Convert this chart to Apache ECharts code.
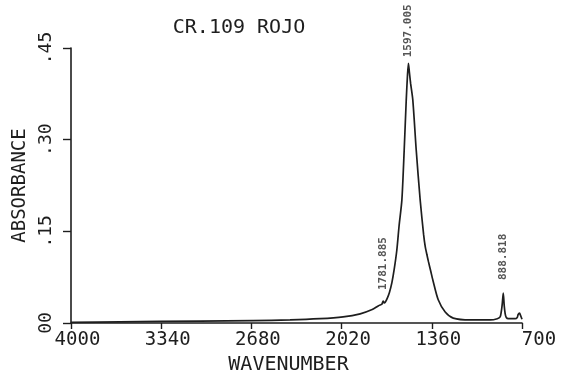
<!DOCTYPE html>
<html><head><meta charset="utf-8">
<script src="https://cdn.jsdelivr.net/npm/echarts@6/dist/echarts.min.js"></script>
<style>html,body{margin:0;padding:0;background:#fff}#c{width:568px;height:376px}</style>
</head><body><div id="c"></div>
<script>
const titleText = 'CR.109 ROJO';
const xAxisName = 'WAVENUMBER';
const yAxisName = 'ABSORBANCE';
const xTicks = [4000, 3340, 2680, 2020, 1360, 700];
const yTicks = [0, 0.15, 0.30, 0.45];
const yTickLabels = ['00', '.15', '.30', '.45'];

const wavenumber = [4000, 3641, 3056, 2668, 2397, 2177, 2009, 1884, 1796, 1752, 1725, 1716, 1708, 1701, 1687, 1670, 1652, 1635, 1616, 1599, 1579, 1562, 1547, 1538, 1531, 1524, 1515, 1499, 1474, 1445, 1420, 1408, 1396, 1384, 1368, 1352, 1313, 1262, 1203, 1079, 933, 881, 860, 852, 845, 837, 830, 823, 815, 801, 750, 735, 728, 718, 710, 700];
const absorbance = [0.001, 0.002, 0.003, 0.004, 0.005, 0.007, 0.010, 0.015, 0.022, 0.028, 0.031, 0.036, 0.033, 0.034, 0.040, 0.050, 0.066, 0.088, 0.119, 0.160, 0.201, 0.283, 0.365, 0.405, 0.425, 0.410, 0.392, 0.365, 0.283, 0.201, 0.145, 0.125, 0.112, 0.100, 0.085, 0.070, 0.038, 0.018, 0.008, 0.005, 0.005, 0.007, 0.010, 0.018, 0.030, 0.049, 0.028, 0.015, 0.009, 0.007, 0.007, 0.009, 0.014, 0.016, 0.012, 0.006];

const peakWavenumber = [1531, 1716, 837];
const peakAbsorbance = [0.425, 0.036, 0.049];
const peakLabels = ['1597.005', '1781.885', '888.818'];
const peakGap = [6, 11, 13];

const FONT = 'DejaVu Sans Mono';
const INK = '#1e1e1e';

const chart = echarts.init(document.getElementById('c'), null, {renderer: 'canvas'});
chart.setOption({
  backgroundColor: '#ffffff',
  animation: false,
  title: {
    text: titleText, left: 234, top: 13, textAlign: 'center',
    textStyle: {fontFamily: FONT, fontSize: 20, fontWeight: 'normal', color: INK}
  },
  grid: {left: 71, right: 46, top: 48, bottom: 53, containLabel: false, outerBoundsMode: 'none'},
  xAxis: {
    type: 'value', inverse: true, min: 700, max: 4000,
    name: xAxisName, nameLocation: 'middle', nameGap: 30,
    nameTextStyle: {fontFamily: FONT, fontSize: 20, color: INK, padding: [0, 16, 0, 0]},
    axisLine: {show: true, onZero: false, lineStyle: {color: INK, width: 1.6}},
    axisTick: {show: true, customValues: xTicks, length: 6, lineStyle: {color: INK, width: 1.4}},
    axisLabel: {
      customValues: xTicks, margin: 8, fontFamily: FONT, fontSize: 19, color: INK,
      formatter: v => v === 700 ? '{e|' + v + '}' : '{n|' + v + '}',
      rich: {
        n: {fontFamily: FONT, fontSize: 19, color: INK, padding: [0, 0, 0, 13]},
        e: {fontFamily: FONT, fontSize: 19, color: INK, padding: [0, 0, 0, 34]}
      }
    },
    splitLine: {show: false}
  },
  yAxis: {
    type: 'value', min: 0, max: 0.45, interval: 0.15,
    name: yAxisName, nameLocation: 'middle', nameGap: 38, nameRotate: 90,
    nameTextStyle: {fontFamily: FONT, fontSize: 19, color: INK},
    axisLine: {show: true, lineStyle: {color: INK, width: 1.6}},
    axisTick: {show: true, length: 8, lineStyle: {color: INK, width: 1.4}},
    axisLabel: {
      rotate: 90, margin: 16, fontFamily: FONT, fontSize: 18, color: INK,
      formatter: v => { const i = yTicks.findIndex(t => Math.abs(t - v) < 1e-6); return i >= 0 ? yTickLabels[i] : ''; }
    },
    splitLine: {show: false}
  },
  series: [
    {
      type: 'line', data: wavenumber.map((w, i) => [w, absorbance[i]]),
      showSymbol: false, symbol: 'none', smooth: 0.25,
      lineStyle: {color: INK, width: 1.7}
    },
    {
      type: 'scatter', symbolSize: 0,
      data: peakWavenumber.map((w, i) => ({
        value: [w, peakAbsorbance[i]],
        label: {distance: peakGap[i]}
      })),
      label: {
        show: true, position: 'top', rotate: 90, align: 'left', verticalAlign: 'middle',
        fontFamily: FONT, fontSize: 11, fontWeight: 'bold', color: '#2a2a2a',
        formatter: p => peakLabels[p.dataIndex]
      }
    }
  ]
});
</script></body></html>
